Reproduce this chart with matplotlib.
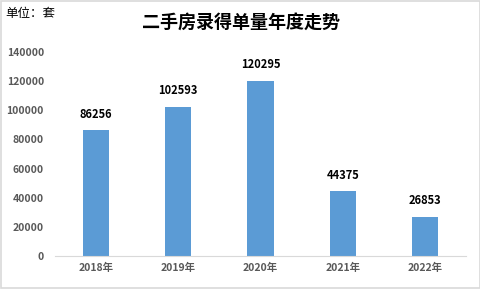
import matplotlib
matplotlib.use("Agg")
import matplotlib.pyplot as plt
from matplotlib.patches import Rectangle

plt.rcParams['font.family'] = ['Noto Sans CJK SC', 'DejaVu Sans']

years = ['2018年', '2019年', '2020年', '2021年', '2022年']
counts = [86256, 102593, 120295, 44375, 26853]
yticks = [0, 20000, 40000, 60000, 80000, 100000, 120000, 140000]

fig = plt.figure(figsize=(4.81, 2.89), dpi=100)
ax = fig.add_axes([55/481, 1 - 256/289, 411/481, 204/289])

x = range(len(years))
bars = ax.bar(x, counts, width=0.32, color='#5B9BD5')
for xi, v in zip(x, counts):
    ax.annotate(str(v), (xi, v), xytext=(0, 7), textcoords='offset points',
                ha='center', va='bottom', fontsize=8, fontweight='bold', color='black')

ax.set_xlim(-0.5, 4.5)
ax.set_ylim(0, 140000)
ax.set_yticks(yticks)
ax.set_yticklabels([str(t) for t in yticks])
ax.set_xticks(list(x))
ax.set_xticklabels(years)
ax.tick_params(axis='both', length=0, labelsize=7.5, colors='#595959')
ax.tick_params(axis='y', pad=8)
ax.tick_params(axis='x', pad=5)
for lab in ax.get_xticklabels() + ax.get_yticklabels():
    lab.set_fontweight('bold')
for s in ['top', 'right', 'left']:
    ax.spines[s].set_visible(False)
ax.spines['bottom'].set_color('#D9D9D9')

fig.text(241/481, 1 - 22/289, '二手房录得单量年度走势', ha='center', va='center',
         fontsize=13, fontweight='bold', color='black')
fig.text(5/481, 1 - 14/289, '单位：套', ha='left', va='center', fontsize=9, color='black')

fig.patches.append(Rectangle((0.002, 0.003), 0.995, 0.993, transform=fig.transFigure,
                             fill=False, edgecolor='#D9D9D9', linewidth=1.2))

fig.savefig('out.png', dpi=100)
